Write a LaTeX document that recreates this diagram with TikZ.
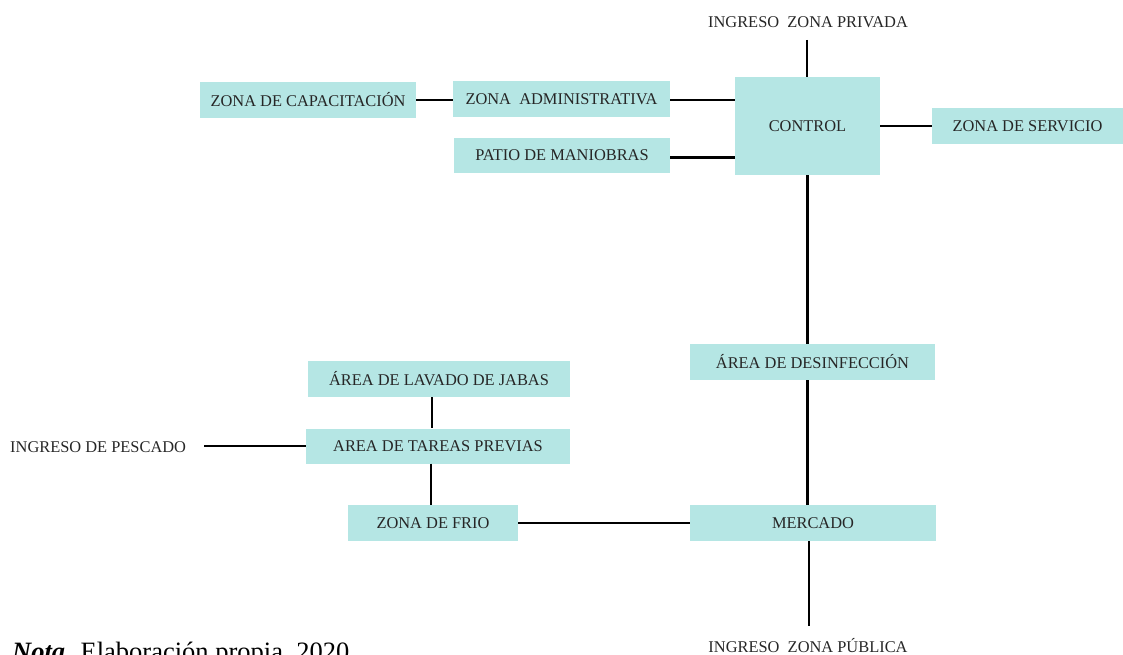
\documentclass[tikz,border=0pt]{standalone}
\usepackage{fontspec}
\setmainfont{Liberation Serif}
\definecolor{boxfill}{RGB}{181,230,228}
\begin{document}
\begin{tikzpicture}[x=1pt,y=-1pt,
  bx/.style={fill=boxfill, inner sep=0pt, font=\fontsize{16.4}{19}\selectfont, text=black!85},
  lbl/.style={inner sep=0pt, font=\fontsize{16.4}{19}\selectfont, text=black!85},
  ln/.style={line width=2.6pt, black}]
\useasboundingbox (0,0) rectangle (1123,655);
% boxes
\node[bx, minimum width=216, minimum height=36] (capac) at (308,100) {ZONA DE CAPACITACIÓN};
\node[bx, minimum width=217, minimum height=36] (admin) at (561.5,99) {ZONA\ \ ADMINISTRATIVA};
\node[bx, minimum width=216, minimum height=35] (patio) at (562,155.5) {PATIO DE MANIOBRAS};
\node[bx, minimum width=145, minimum height=98] (control) at (807.5,126) {CONTROL};
\node[bx, minimum width=191, minimum height=36] (serv) at (1027.5,126) {ZONA DE SERVICIO};
\node[bx, minimum width=245, minimum height=36] (desinf) at (812.5,362) {ÁREA DE DESINFECCIÓN};
\node[bx, minimum width=246, minimum height=36] (mercado) at (813,523) {MERCADO};
\node[bx, minimum width=262, minimum height=36] (lavado) at (439,379) {ÁREA DE LAVADO DE JABAS};
\node[bx, minimum width=264, minimum height=35] (tareas) at (438,446) {AREA DE TAREAS PREVIAS};
\node[bx, minimum width=170, minimum height=36] (frio) at (433,523) {ZONA DE FRIO};
% labels
\node[lbl] (ingpriv) at (808,22) {INGRESO\ \ ZONA PRIVADA};
\node[lbl] (ingpub) at (808,646) {INGRESO\ \ ZONA PÚBLICA};
\node[lbl, anchor=west] (ingpes) at (10,447) {INGRESO DE PESCADO};
\node[inner sep=0pt, anchor=base west, font=\fontsize{26.5}{30}\selectfont] (nota) at (12,660) {\textbf{\textit{Nota}}. Elaboración propia, 2020};
% free ends
\coordinate (privtop) at (807,40);
\coordinate (pubbot) at (809,626);
\coordinate (pesend) at (204,446);
% connectors
\draw[ln] (capac.east) -- (admin.west |- capac.east);
\draw[ln] ([yshift=-1]admin.east) -- ([yshift=-1]admin.east -| control.west);
\draw[ln] ([yshift=-2]patio.east) -- ([yshift=-2]patio.east -| control.west);
\draw[ln] (control.east) -- (serv.west);
\draw[ln] (privtop) -- (privtop |- control.north);
\draw[ln] (control.south) -- (control.south |- desinf.north);
\draw[ln] (desinf.south -| control.south) -- (mercado.north -| control.south);
\draw[ln] (mercado.south -| pubbot) -- (pubbot);
\draw[ln] ([xshift=-7]lavado.south) -- ([xshift=-7]lavado.south |- tareas.north);
\draw[ln] ([xshift=-7]tareas.south) -- ([xshift=-7]tareas.south |- frio.north);
\draw[ln] (pesend) -- (pesend -| tareas.west);
\draw[ln] (frio.east) -- (mercado.west);
\end{tikzpicture}
\end{document}
